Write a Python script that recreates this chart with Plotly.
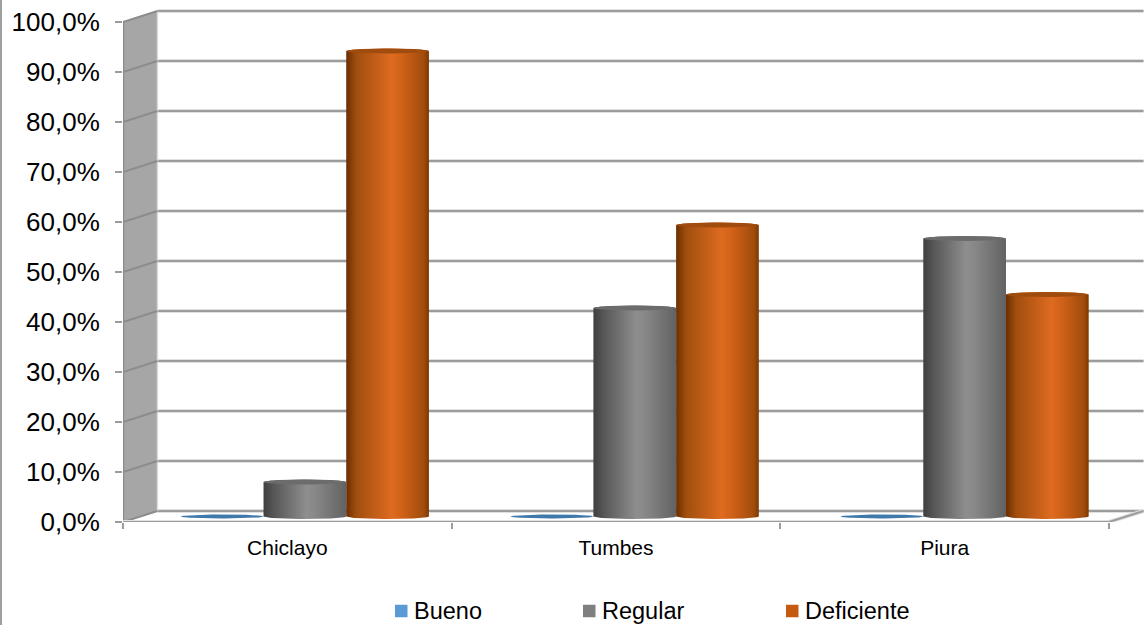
import numpy as np
import plotly.graph_objects as go

# Chart data
CITIES = ["Chiclayo", "Tumbes", "Piura"]
BUENO = [0.0, 0.0, 0.0]
REGULAR = [6.9, 41.7, 55.6]
DEFICIENTE = [93.1, 58.3, 44.4]
SERIES_NAMES = ["Bueno", "Regular", "Deficiente"]
Y_TICKS = [0, 10, 20, 30, 40, 50, 60, 70, 80, 90, 100]
Y_LABELS = ["0,0%", "10,0%", "20,0%", "30,0%", "40,0%", "50,0%",
            "60,0%", "70,0%", "80,0%", "90,0%", "100,0%"]

# Canvas and plot box, in pixels
W, H = 1146, 625
PLOT_L, PLOT_B = 123, 103
PLOT_W, PLOT_H = W - PLOT_L, H - PLOT_B

# Axis ranges: each category is one x unit wide, front floor spans -0.5..2.5
X_RANGE = [-0.5, 2.6126]
Y_RANGE = [0, 104.4]
X_SCALE = PLOT_W / (X_RANGE[1] - X_RANGE[0])
Y_SCALE = PLOT_H / (Y_RANGE[1] - Y_RANGE[0])

# Fake-3D box depth, in axis units
DEPTH_X = 34.5 / X_SCALE
DEPTH_Y = 2.2
X_FRONT_L, X_FRONT_R = -0.5, 2.5
X_BACK_L, X_BACK_R = X_FRONT_L + DEPTH_X, X_FRONT_R + DEPTH_X

# Cylinder geometry, in axis units
BAR_W = 82.7 / X_SCALE
GROUP_OFFSET = 0.0534
GROUP_PITCH = 1.0037
BASE_Y = DEPTH_Y / 2
CAP_RY = 2.5 / Y_SCALE
FLAT_RY = 2 / Y_SCALE

GRID = "#9c9c9c"
GRID_HALO = "#e0e0e0"
WALL = "#a6a6a6"
WALL_EDGE = "#8c8c8c"

GREY_RAMP = [[0, "#3f3f3f"], [0.12, "#565656"], [0.52, "#8e8e8e"],
             [0.62, "#888888"], [1, "#626262"]]
ORANGE_RAMP = [[0, "#6b2e00"], [0.12, "#a04e0e"], [0.55, "#de6b20"],
               [0.68, "#cf6118"], [0.94, "#a04c0c"], [1, "#7d3802"]]

fig = go.Figure()


def add_line(xs, ys, color=GRID, width=2):
    fig.add_trace(go.Scatter(x=xs, y=ys, mode="lines", cliponaxis=False,
                             line=dict(color=color, width=width),
                             hoverinfo="skip", showlegend=False))


def add_soft_line(xs, ys):
    add_line(xs, ys, GRID_HALO, 4)
    add_line(xs, ys, GRID, 2)


def add_poly(xs, ys, color):
    fig.add_trace(go.Scatter(x=xs, y=ys, mode="lines", fill="toself",
                             fillcolor=color, line=dict(width=0),
                             cliponaxis=False, hoverinfo="skip",
                             showlegend=False))


def ellipse(cx, cy, rx, ry, t):
    return cx + rx * np.cos(t), cy + ry * np.sin(t)


def add_cylinder(center, value, ramp, cap_color, name):
    rx = BAR_W / 2
    top = BASE_Y + value
    # Body: rear arc across the top, front arc along the floor
    tx, ty = ellipse(center, top, rx, CAP_RY, np.linspace(np.pi, 0, 40))
    bx, by = ellipse(center, BASE_Y, rx, CAP_RY, np.linspace(0, -np.pi, 40))
    fig.add_trace(go.Scatter(
        x=np.r_[tx, bx], y=np.r_[ty, by], mode="lines", fill="toself",
        fillgradient=dict(type="horizontal", colorscale=ramp),
        line=dict(width=0), name=name, showlegend=False, hoverinfo="skip",
    ))
    # Top face
    cx_, cy_ = ellipse(center, top, rx, CAP_RY,
                       np.linspace(0, 2 * np.pi, 80))
    fig.add_trace(go.Scatter(
        x=cx_, y=cy_, mode="lines", fill="toself", fillcolor=cap_color,
        line=dict(width=0), name=name, showlegend=False,
        text=f"{name}: {value:.1f}%".replace(".", ","), hoverinfo="text",
    ))


# Gridlines on the back wall
for tick in Y_TICKS:
    add_soft_line([X_BACK_L, X_BACK_R], [tick + DEPTH_Y] * 2)

# Side wall, with the gridlines continued across it
add_poly([X_FRONT_L, X_BACK_L, X_BACK_L, X_FRONT_L],
         [0, DEPTH_Y, 100 + DEPTH_Y, 100], WALL)
add_line([X_FRONT_L, X_FRONT_L], [0, 100], WALL_EDGE, 2.5)
add_line([X_BACK_L, X_BACK_L], [DEPTH_Y, 100 + DEPTH_Y], "#dcdcdc", 1.5)
for tick in Y_TICKS:
    add_line([X_FRONT_L, X_BACK_L], [tick, tick + DEPTH_Y], WALL_EDGE, 2)

# Floor outline
add_soft_line([X_FRONT_L, X_FRONT_R, X_BACK_R], [0, 0, DEPTH_Y])

# One cylinder per city and series
for i, city in enumerate(CITIES):
    mid = GROUP_OFFSET + i * GROUP_PITCH
    # Flat disc for the zero-valued series
    cx_, cy_ = ellipse(mid - BAR_W, BASE_Y + BUENO[i], BAR_W / 2, FLAT_RY,
                       np.linspace(0, 2 * np.pi, 80))
    fig.add_trace(go.Scatter(
        x=cx_, y=cy_, mode="lines", fill="toself", fillcolor="#3f78aa",
        line=dict(width=0), showlegend=False, name=SERIES_NAMES[0],
        text=f"{SERIES_NAMES[0]}: {BUENO[i]:.1f}%".replace(".", ","),
        hoverinfo="text",
    ))
    add_cylinder(mid, REGULAR[i], GREY_RAMP, "#6c6c6c", SERIES_NAMES[1])
    add_cylinder(mid + BAR_W, DEFICIENTE[i], ORANGE_RAMP, "#a04c0e",
                 SERIES_NAMES[2])


def paper_x(px):
    return (px - PLOT_L) / PLOT_W


def paper_y(py):
    return (H - PLOT_B - py) / PLOT_H


# Legend row: swatch and label placed by hand for the tight key spacing
LEGEND_COLORS = ["#5b9bd5", "#7f7f7f", "#c55a11"]
LEGEND_X = [395, 583, 786]
LEGEND_Y = 611
SWATCH = 12.5
shapes = []
annotations = []
for name, color, lx in zip(SERIES_NAMES, LEGEND_COLORS, LEGEND_X):
    shapes.append(dict(type="rect", xref="paper", yref="paper",
                       x0=paper_x(lx), x1=paper_x(lx + SWATCH),
                       y0=paper_y(LEGEND_Y + SWATCH / 2),
                       y1=paper_y(LEGEND_Y - SWATCH / 2),
                       fillcolor=color, line=dict(width=0)))
    annotations.append(dict(text=name, xref="paper", yref="paper",
                            x=paper_x(lx + SWATCH + 5.5), y=paper_y(LEGEND_Y),
                            xanchor="left", yanchor="middle", showarrow=False,
                            borderpad=0,
                            font=dict(size=23.5, color="#000000")))

# Chart frame along the left edge
shapes.append(dict(type="line", xref="paper", yref="paper",
                   x0=paper_x(1), x1=paper_x(1), y0=paper_y(0), y1=paper_y(H),
                   line=dict(color="#a0a0a0", width=2)))

FONT = "Liberation Sans, Arial, sans-serif"
fig.update_layout(
    width=W, height=H,
    margin=dict(l=PLOT_L, r=0, t=0, b=PLOT_B, pad=0),
    paper_bgcolor="#ffffff", plot_bgcolor="#ffffff",
    showlegend=False,
    font=dict(family=FONT, color="#000000"),
    shapes=shapes, annotations=annotations,
    xaxis=dict(
        range=X_RANGE, showgrid=False, zeroline=False, showline=False,
        tickmode="array", tickvals=list(range(len(CITIES))), ticktext=CITIES,
        ticks="", tickfont=dict(size=21, color="#000000"),
        ticklabelstandoff=11,
        minor=dict(tickmode="array", tickvals=[-0.5, 0.5, 1.5, 2.5],
                   ticks="outside", ticklen=6, tickwidth=1.5, tickcolor=GRID,
                   showgrid=False),
    ),
    yaxis=dict(
        range=Y_RANGE, showgrid=False, zeroline=False, showline=False,
        tickmode="array", tickvals=Y_TICKS, ticktext=Y_LABELS,
        ticks="outside", ticklen=7, tickwidth=1.5, tickcolor=GRID,
        tickfont=dict(size=26, color="#000000"),
        ticklabelstandoff=10,
    ),
)

fig.write_html("out.html", config=dict(displayModeBar=False))
